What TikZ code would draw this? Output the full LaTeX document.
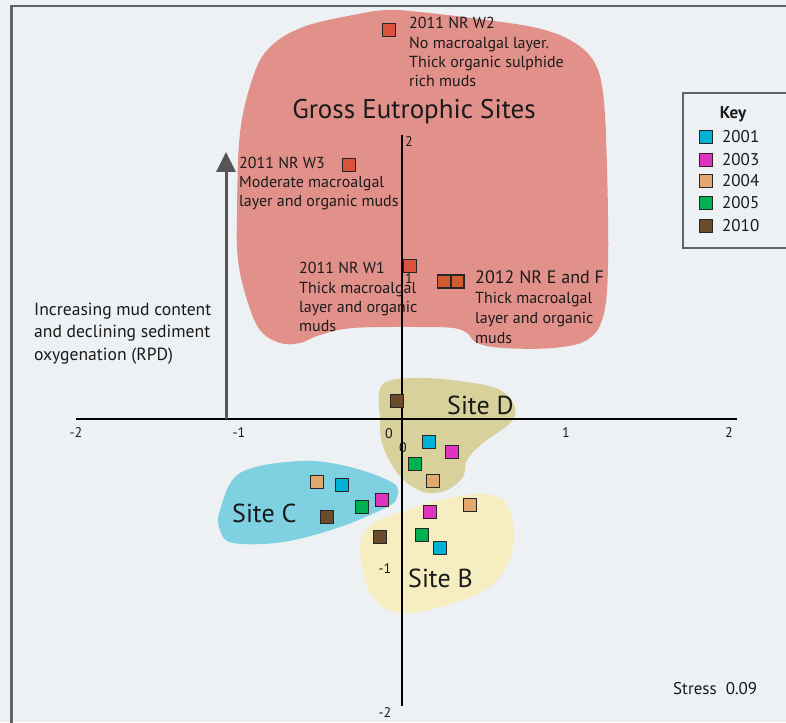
\documentclass[tikz,border=0pt]{standalone}
\usepackage{fontspec}
\setmainfont{PT Sans}
\usetikzlibrary{arrows.meta}
\definecolor{bgc}{HTML}{EDF1F4}
\definecolor{framec}{HTML}{626262}
\definecolor{eutro}{HTML}{E2918A}
\definecolor{sited}{HTML}{D9D19B}
\definecolor{sitec}{HTML}{7FD0E0}
\definecolor{siteb}{HTML}{F6EDC1}
\definecolor{redpt}{HTML}{D9533F}
\definecolor{orangept}{HTML}{CF5D30}
\definecolor{yA}{HTML}{00B2D6}
\definecolor{yB}{HTML}{E232C0}
\definecolor{yC}{HTML}{E3A870}
\definecolor{yD}{HTML}{00AF50}
\definecolor{yE}{HTML}{6B4B2B}
\definecolor{arrowc}{HTML}{555555}
\definecolor{txt}{HTML}{1A1A1A}
\begin{document}
\begin{tikzpicture}[x=1pt,y=-1pt,
  pt/.style={draw=black!85,line width=1.3pt,minimum size=13pt,inner sep=0pt,outer sep=0pt},
  note/.style={anchor=base west,align=left,inner sep=0pt,text=txt,font=\fontsize{16}{19.3}\selectfont},
  sitelbl/.style={anchor=base west,inner sep=0pt,text=txt,font=\fontsize{26}{30}\selectfont},
  tick/.style={anchor=base,inner sep=0pt,text=txt,font=\fontsize{14}{16}\selectfont},
  keytxt/.style={anchor=base west,inner sep=0pt,text=txt,font=\fontsize{17}{20}\selectfont},
  framed/.style={draw=framec,line width=2.5pt}]
\useasboundingbox (0,0) rectangle (786,722);
\clip (0,0) rectangle (786,722);
\fill[bgc] (0,0) rectangle (786,722);
% frame
\draw[framed] (11.5,740) |- (800,6);
% blobs
\fill[eutro] plot[smooth cycle,tension=0.6] coordinates {(387,10) (420,12) (487,20) (537,28) (570,40) (593,60) (603,93) (607,167) (608,267) (603,317) (587,340) (553,348) (503,348) (477,343) (467,333) (453,328) (420,327) (353,328) (320,335) (300,343) (280,343) (260,330) (247,300) (238,260) (237,213) (240,133) (253,77) (270,47) (303,27) (353,15)};
\fill[sited] plot[smooth cycle,tension=0.6] coordinates {(382,385) (417,378) (467,382) (500,390) (515,407) (510,423) (483,443) (467,460) (463,477) (447,490) (427,493) (407,483) (393,467) (382,443) (380,420)};
\fill[siteb] plot[smooth cycle,tension=0.6] coordinates {(373,523) (407,510) (440,500) (480,494) (503,500) (513,523) (513,547) (503,573) (480,593) (440,607) (407,613) (383,607) (367,587) (362,563) (360,543)};
\fill[sitec] plot[smooth cycle,tension=0.6] coordinates {(240,473) (300,461) (350,467) (393,483) (397,497) (387,507) (340,527) (283,542) (233,543) (220,530) (220,510)};
% axes
\coordinate (xl) at (76,419);
\coordinate (xr) at (737,419);
\coordinate (yt) at (402,135);
\coordinate (yb) at (402,706);
\draw[line width=2.8pt,black] (xl) -- (xr);
\draw[line width=1.2pt,black] (yt) -- (yb);
% gradient arrow
\coordinate (arrbase) at (226,419);
\coordinate (arrtip) at (226,152);
\draw[arrowc,line width=3pt,-{Triangle[width=19pt,length=20pt]}] (arrbase) -- (arrtip);
% tick labels
\node[tick] (tx1) at (76,437) {-2};
\node[tick] (tx2) at (239,437) {-1};
\node[tick] (tx3) at (389,438) {0};
\node[tick] (tx4) at (566,437) {1};
\node[tick] (tx5) at (729,437) {2};
\node[tick] (ty1) at (409,147) {2};
\node[tick] (ty2) at (409,283) {1};
\node[tick] (ty3) at (403,452) {0};
\node[tick] (ty4) at (385,573) {-1};
\node[tick] (ty5) at (385,717) {-2};
% labels (base anchor = baseline of last line)
\node[anchor=base,inner sep=0pt,text=txt,font=\fontsize{27}{30}\selectfont] (gross) at (414,119) {Gross Eutrophic Sites};
\node[note] (w2lbl) at (409,86.7) {2011 NR W2\\No macroalgal layer.\\Thick organic sulphide\\rich muds};
\node[note] (w3lbl) at (239,206.7) {2011 NR W3\\Moderate macroalgal\\layer and organic muds};
\node[note] (w1lbl) at (299,331.7) {2011 NR W1\\Thick macroalgal\\layer and organic\\muds};
\node[note,font=\fontsize{16}{20}\selectfont] (eflbl) at (475,343) {{\fontsize{18}{20}\selectfont 2012 NR E and F}\\Thick macroalgal\\layer and organic\\muds};
\node[note,font=\fontsize{17.6}{22.5}\selectfont] (gradlbl) at (34,360) {Increasing mud content\\and declining sediment\\oxygenation (RPD)};
\node[sitelbl] (dlbl) at (447,414) {Site D};
\node[sitelbl] (clbl) at (232,522) {Site C};
\node[sitelbl] (blbl) at (408,587) {Site B};
\node[anchor=base west,inner sep=0pt,text=txt,font=\fontsize{17}{20}\selectfont] (stress) at (673,694) {Stress\ \ 0.09};
% eutrophic points
\node[pt,fill=redpt] (w2) at (389,30) {};
\node[pt,fill=redpt] (w3) at (349,165) {};
\node[pt,fill=redpt] (w1) at (410,266) {};
\node[pt,fill=orangept] (e) at (444,281.5) {};
\node[pt,fill=orangept] (f) at (457.5,281.5) {};
% site D
\node[pt,fill=yE] (d10) at (397,401) {};
\node[pt,fill=yA] (d01) at (429,442) {};
\node[pt,fill=yB] (d03) at (452,452) {};
\node[pt,fill=yD] (d05) at (415,464) {};
\node[pt,fill=yC] (d04) at (433,481) {};
% site C
\node[pt,fill=yC] (c04) at (317,482) {};
\node[pt,fill=yA] (c01) at (342,485) {};
\node[pt,fill=yB] (c03) at (382,500) {};
\node[pt,fill=yD] (c05) at (362,507) {};
\node[pt,fill=yE] (c10) at (327,517) {};
% site B
\node[pt,fill=yC] (b04) at (470,505) {};
\node[pt,fill=yB] (b03) at (430,512) {};
\node[pt,fill=yE] (b10) at (380,537) {};
\node[pt,fill=yD] (b05) at (422,535) {};
\node[pt,fill=yA] (b01) at (440,548) {};
% key
\draw[framed,fill=bgc] (683,93) rectangle (800,248);
\node[anchor=base,inner sep=0pt,text=txt,font=\fontsize{17}{20}\selectfont\bfseries] (keyt) at (733,119) {Key};
\node[pt,fill=yA] (k01) at (706,137) {};
\node[pt,fill=yB] (k03) at (706,160) {};
\node[pt,fill=yC] (k04) at (706,181) {};
\node[pt,fill=yD] (k05) at (706,203) {};
\node[pt,fill=yE] (k10) at (706,226) {};
\node[keytxt] (k01t) at (722,142.7) {2001};
\node[keytxt] (k03t) at (722,165.7) {2003};
\node[keytxt] (k04t) at (722,186.7) {2004};
\node[keytxt] (k05t) at (722,208.3) {2005};
\node[keytxt] (k10t) at (722,231.7) {2010};
\end{tikzpicture}
\end{document}
